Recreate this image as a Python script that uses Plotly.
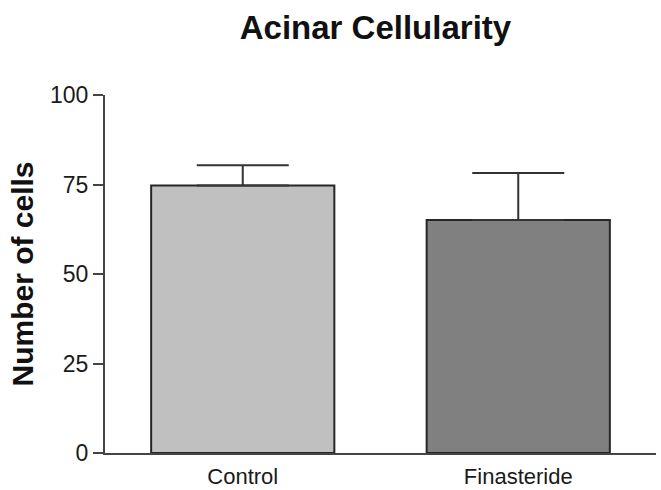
import plotly.graph_objects as go

categories = ["Control", "Finasteride"]
means = [74.7, 65.1]
sem = [5.7, 13.1]
bar_colors = ["#c0c0c0", "#808080"]
y_ticks = [0, 25, 50, 75, 100]

fig = go.Figure()
fig.add_trace(go.Bar(
    x=categories, y=means,
    marker=dict(color=bar_colors, line=dict(color="#262626", width=2)),
    width=0.665,
    error_y=dict(type="data", symmetric=False, array=sem, arrayminus=[0, 0],
                 color="#333333", thickness=2, width=46),
))

font = "Liberation Sans, Arial, sans-serif"
fig.update_layout(
    width=661, height=490,
    margin=dict(l=105, r=5, t=95, b=37, autoexpand=False),
    paper_bgcolor="white", plot_bgcolor="white",
    showlegend=False,
    font=dict(family=font, color="#1a1a1a"),
    title=dict(text="<b>Acinar Cellularity</b>", x=0.568, xanchor="center",
               y=0.943, yanchor="middle", font=dict(size=33, color="#111111")),
    xaxis=dict(range=[-0.5, 1.5], showline=True, linecolor="#444444", linewidth=2,
               ticks="", tickfont=dict(size=22), ticklabelstandoff=3,
               showgrid=False, zeroline=False, fixedrange=True),
    yaxis=dict(range=[0, 100], tickvals=y_ticks, showline=True, linecolor="#444444",
               linewidth=2, ticks="outside", ticklen=10, tickwidth=2, tickcolor="#444444",
               tickfont=dict(size=23), showgrid=False, zeroline=False,
               title=dict(text="<b>Number of cells</b>", font=dict(size=30, color="#111111"),
                          standoff=8)),
)
fig.write_html("out.html")
